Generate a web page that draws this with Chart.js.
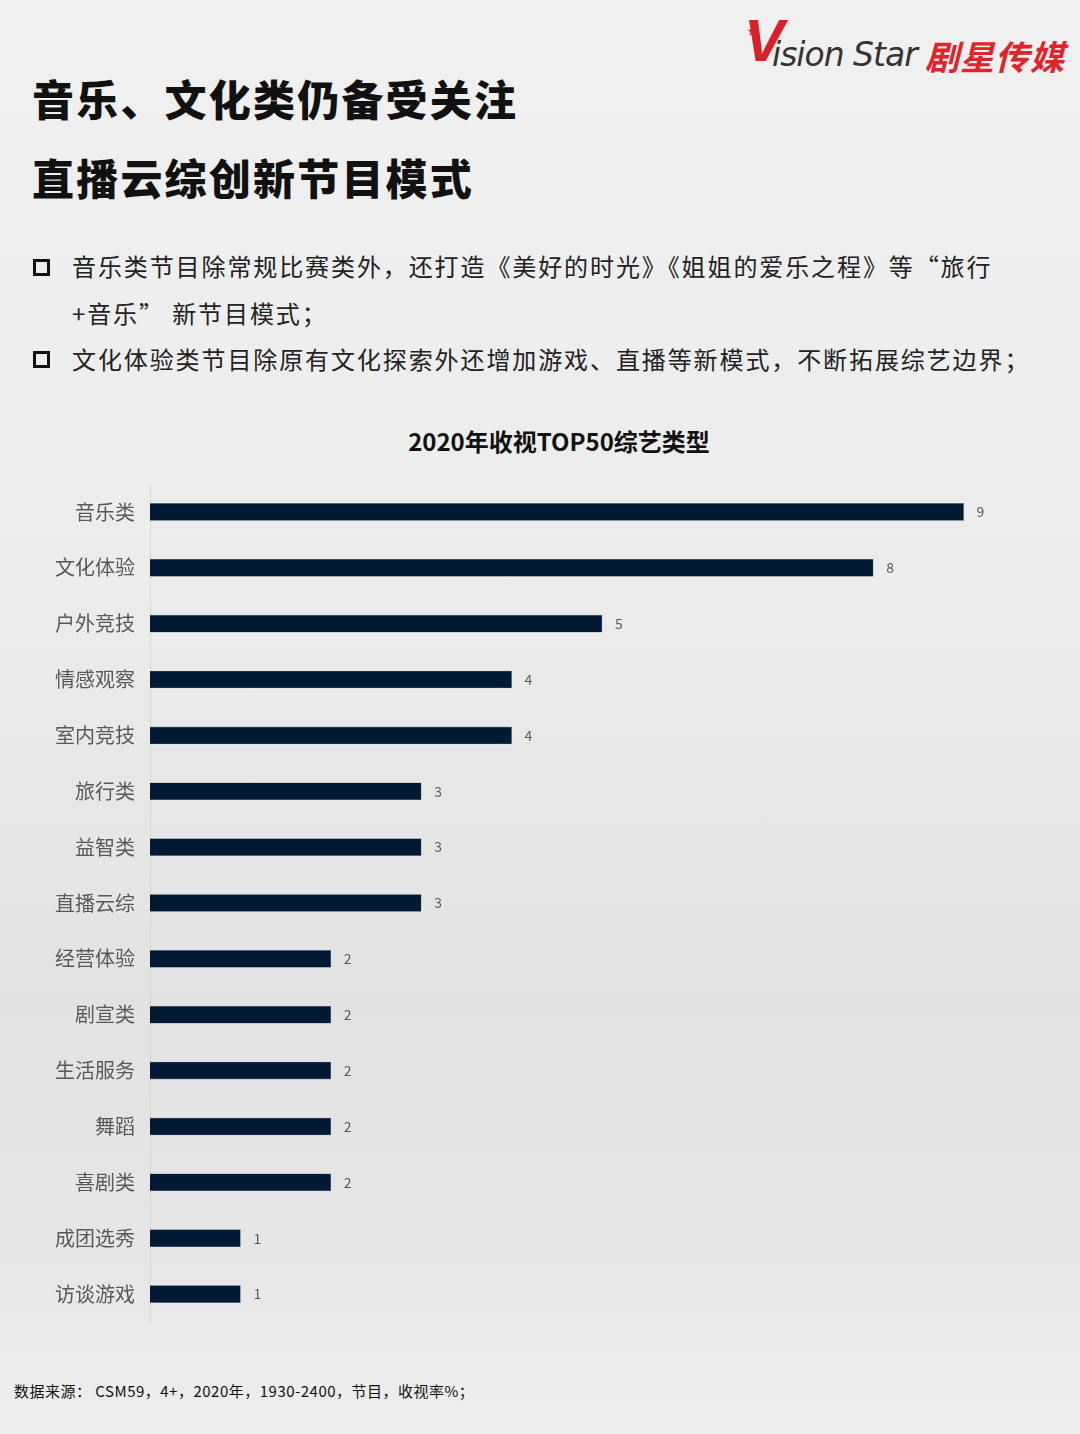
<!DOCTYPE html>
<html><head><meta charset="utf-8">
<script src="https://cdn.jsdelivr.net/npm/chart.js@4.4.0/dist/chart.umd.min.js"></script>
<style>
html,body{margin:0;padding:0;}
body{width:1080px;height:1434px;position:relative;overflow:hidden;
background:linear-gradient(180deg,#f0f0f0 0%,#ececec 40%,#e2e2e2 70%,#e6e6e6 88%,#eeeeee 100%);
font-family:"Noto Sans CJK SC","Noto Sans",sans-serif;}
.logo{position:absolute;left:744px;top:14px;height:60px;white-space:nowrap;}
.logo .v{position:absolute;left:0;top:-8px;font:italic 700 60px "Liberation Sans",sans-serif;color:#d8212a;}
.logo .en{position:absolute;left:28px;top:21px;font:italic 400 33px "DejaVu Sans",sans-serif;color:#333;letter-spacing:-1px;}
.logo .cn{position:absolute;left:181px;top:17px;font:italic 700 34px "Noto Sans CJK SC",sans-serif;color:#e0242c;letter-spacing:1px;}
.logo .star{position:absolute;left:3px;top:8px;color:#d8212a;font-size:11px;}
.title{position:absolute;left:32px;font-weight:900;font-size:42px;color:#111;letter-spacing:2.2px;line-height:1;}
.bullet{position:absolute;left:72px;font-size:24px;color:#222;line-height:1;letter-spacing:1.9px;white-space:nowrap;}
.box{position:absolute;left:33px;width:11px;height:11px;border:3px solid #111;}
.ctitle{position:absolute;left:0;width:1118px;text-align:center;top:423px;font-size:24px;font-weight:700;color:#111;}
.foot{position:absolute;left:14px;top:1380px;font-size:15px;color:#111;letter-spacing:0.5px;}
#wrap{position:absolute;left:0;top:457px;width:1080px;height:892px;}
</style></head>
<body>
<div class="logo"><span class="v">V</span><span class="star">★</span><span class="en">ision Star</span><span class="cn">剧星传媒</span></div>
<div class="title" style="top:77px">音乐、文化类仍备受关注</div>
<div class="title" style="top:156px">直播云综创新节目模式</div>
<div class="box" style="top:259px"></div>
<div class="bullet" style="top:254px">音乐类节目除常规比赛类外，还打造《美好的时光》《姐姐的爱乐之程》等“旅行</div>
<div class="bullet" style="top:301px">+音乐” 新节目模式；</div>
<div class="box" style="top:351px"></div>
<div class="bullet" style="top:347px">文化体验类节目除原有文化探索外还增加游戏、直播等新模式，不断拓展综艺边界；</div>
<div class="ctitle">2020年收视TOP50综艺类型</div>
<div id="wrap"><canvas id="c"></canvas></div>
<div class="foot">数据来源： CSM59，4+，2020年，1930-2400，节目，收视率%；</div>
<script>
const categories = ["音乐类","文化体验","户外竞技","情感观察","室内竞技","旅行类","益智类","直播云综","经营体验","剧宣类","生活服务","舞蹈","喜剧类","成团选秀","访谈游戏"];
const counts = [9,8,5,4,4,3,3,3,2,2,2,2,2,1,1];

const valueLabels = {
  id:'valueLabels',
  afterDatasetsDraw(chart){
    const ctx = chart.ctx;
    const meta = chart.getDatasetMeta(0);
    ctx.save();
    ctx.font = '14px "Noto Sans CJK SC", sans-serif';
    ctx.fillStyle = '#595959';
    ctx.textAlign = 'left';
    ctx.textBaseline = 'middle';
    meta.data.forEach((bar,i)=>{
      ctx.fillText(String(counts[i]), bar.x + 13, bar.y);
    });
    ctx.restore();
  }
};

new Chart(document.getElementById('c'),{
  type:'bar',
  data:{labels:categories,datasets:[{data:counts,backgroundColor:'#011a33',borderColor:'#6f8092',borderWidth:0.6,barThickness:17}]},
  options:{
    indexAxis:'y',
    responsive:true,maintainAspectRatio:false,animation:false,
    layout:{padding:{top:0,bottom:0,right:26,left:0}},
    plugins:{legend:{display:false},tooltip:{enabled:false},title:{display:false}},
    scales:{
      x:{display:false,min:0,max:10},
      y:{
        grid:{display:false,drawTicks:false},
        border:{display:true,color:'#d6d6d6',width:1},
        ticks:{padding:15,color:'#595959',font:{size:20,family:'"Noto Sans CJK SC", sans-serif'}},
        afterFit(s){s.width=150;}
      }
    }
  },
  plugins:[valueLabels]
});
</script>
</body></html>
